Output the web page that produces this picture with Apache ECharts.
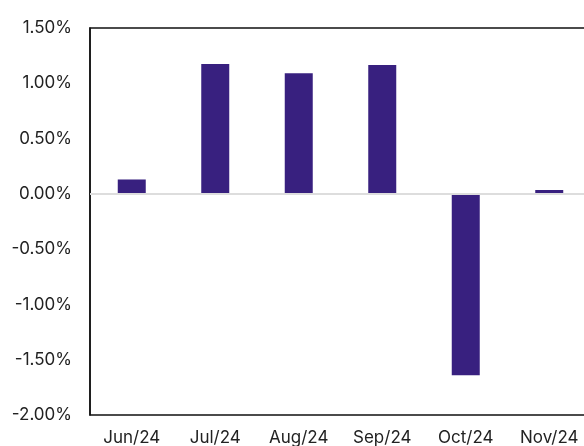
<!DOCTYPE html>
<html>
	<head>
		<meta charset="UTF-8">
		<title></title>
		<script src="https://cdn.jsdelivr.net/npm/echarts@6/dist/echarts.min.js"></script>
		<style>
			html, body { margin: 0; padding: 0; background: #fff; }
		</style>
	</head>
	<body>
		<div id="chart" style="width: 584px; height: 446px;"></div>
		<script type="text/javascript">
			var months = ['Jun/24', 'Jul/24', 'Aug/24', 'Sep/24', 'Oct/24', 'Nov/24'];
			var returns = [0.13, 1.175, 1.09, 1.165, -1.64, 0.035];
			var yTicks = { min: -2, max: 1.5, step: 0.5 };

			var myChart = echarts.init(document.getElementById('chart'));
			var option = {
				animation: false,
				textStyle: { fontFamily: 'Inter' },
				grid: {
					left: 90, top: 28, bottom: 31, width: 501,
					outerBoundsMode: 'none',
					show: true, borderColor: '#111', borderWidth: 1.5
				},
				xAxis: {
					type: 'category',
					data: months,
					axisLine: { show: true, lineStyle: { color: '#111', width: 1.5 } },
					axisTick: { show: false },
					axisLabel: { color: '#222', fontSize: 17, margin: 14, interval: 0 }
				},
				yAxis: {
					type: 'value',
					min: yTicks.min, max: yTicks.max, interval: yTicks.step,
					axisLine: { show: true, lineStyle: { color: '#111', width: 1.5 } },
					axisTick: { show: false },
					splitLine: { show: false },
					axisLabel: {
						color: '#222', fontSize: 17, margin: 18,
						formatter: function(v) { return v.toFixed(2) + '%'; }
					}
				},
				series: [{
					type: 'bar',
					data: returns,
					barWidth: 28,
					itemStyle: { color: '#38207f' },
					markLine: {
						silent: true,
						symbol: 'none',
						label: { show: false },
						lineStyle: { color: '#dddddd', type: 'solid', width: 2 },
						data: [{ yAxis: 0 }]
					}
				}]
			};
			myChart.setOption(option);
		</script>
	</body>
</html>
